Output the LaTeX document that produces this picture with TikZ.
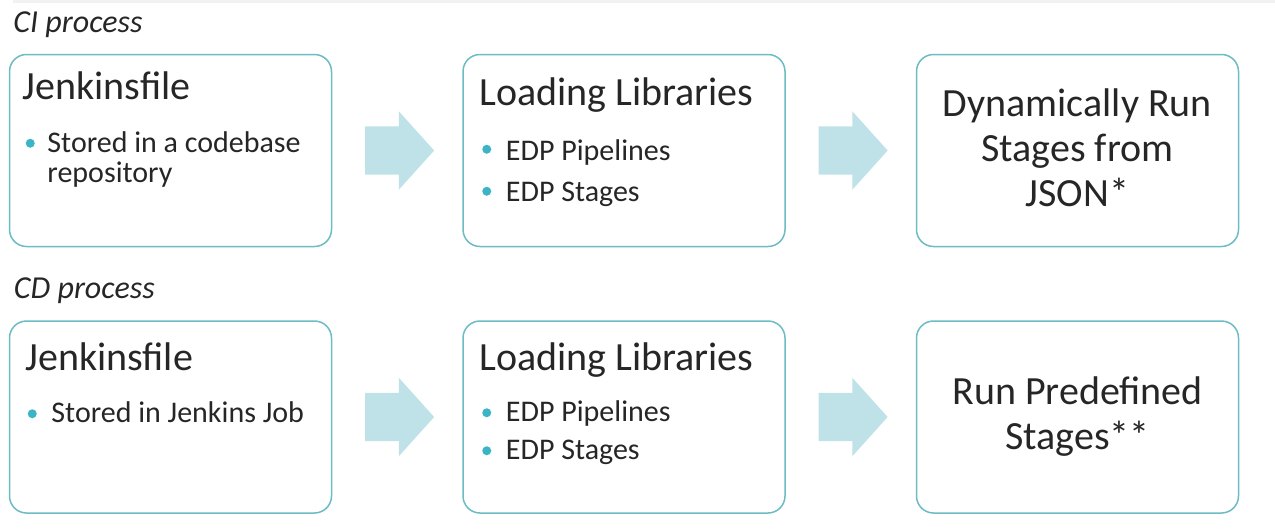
\documentclass[tikz,border=0pt]{standalone}
\usepackage{fontspec}
\setmainfont{Carlito}
\usetikzlibrary{positioning,calc,shapes.arrows}
\definecolor{boxline}{HTML}{6CBCC4}
\definecolor{arrowfill}{HTML}{BEE2E8}
\definecolor{dotfill}{HTML}{3BB4C6}
\definecolor{ink}{HTML}{262626}
\definecolor{strip}{HTML}{F2F2F2}

\begin{document}
\begin{tikzpicture}[x=1pt,y=-1pt,
  stagebox/.style={draw=boxline, line width=1.5pt, rounded corners=17pt, minimum width=322pt, minimum height=192pt, inner sep=0pt},
  headline/.style={anchor=base west, inner sep=0pt, text=ink, font=\fontsize{40}{46}\selectfont},
  itemline/.style={anchor=base west, inner sep=0pt, text=ink, font=\fontsize{30}{30}\selectfont},
  bigline/.style={anchor=base, inner sep=0pt, text=ink, font=\fontsize{40}{45}\selectfont},
  procline/.style={anchor=base west, inner sep=0pt, text=ink, font=\fontsize{32}{32}\selectfont\itshape},
  dot/.style={circle, fill=dotfill, minimum size=9pt, inner sep=0pt},
  flowarrow/.style={single arrow, fill=arrowfill, inner xsep=0pt, inner ysep=24pt, minimum height=69pt, single arrow head extend=15pt, single arrow tip angle=96}
]
\useasboundingbox (0,0) rectangle (1275,531);
\fill[strip] (13,0) rectangle (1275,3);

% CI process
\node[stagebox] (ci1) at (170.5,150.5) {};
\node[stagebox, right=130pt of ci1] (ci2) {};
\node[stagebox, right=130pt of ci2] (ci3) {};
\node[procline] (cilab) at ([shift={(4.5,-21)}]ci1.north west) {CI process};

\node[headline] (ci1h) at ([shift={(14,45.5)}]ci1.north west) {Jenkinsfile};
\node[dot] (ci1d) at ([shift={(21.5,89.5)}]ci1.north west) {};
\node[itemline] (ci1i) at ([shift={(38.5,98.5)}]ci1.north west) {\begin{tabular}[t]{@{}l@{}}Stored in a codebase\\repository\end{tabular}};

\node[headline] (ci2h) at ([shift={(17,51.5)}]ci2.north west) {Loading Libraries};
\node[dot] (ci2d1) at ([shift={(24.5,95.5)}]ci2.north west) {};
\node[itemline] (ci2i1) at ([shift={(43.5,106.5)}]ci2.north west) {EDP Pipelines};
\node[dot] (ci2d2) at ([shift={(24.5,137.5)}]ci2.north west) {};
\node[itemline] (ci2i2) at ([shift={(43.5,147.5)}]ci2.north west) {EDP Stages};

\node[bigline] (ci3t) at ([shift={(0,62.5)}]ci3.north) {\begin{tabular}[t]{@{}c@{}}Dynamically Run\\Stages from\\JSON*\end{tabular}};

\node[flowarrow] (ciar1) at ($(ci1.east)!.5!(ci2.west)+(-8.5,0)$) {};
\node[flowarrow] (ciar2) at ($(ci2.east)!.5!(ci3.west)+(-8.5,0)$) {};

% CD process
\node[stagebox, below=73pt of ci1] (cd1) {};
\node[stagebox, right=130pt of cd1] (cd2) {};
\node[stagebox, right=130pt of cd2] (cd3) {};
\node[procline] (cdlab) at ([shift={(5,-21.5)}]cd1.north west) {CD process};

\node[headline] (cd1h) at ([shift={(16.5,50.5)}]cd1.north west) {Jenkinsfile};
\node[dot] (cd1d) at ([shift={(23.5,93.5)}]cd1.north west) {};
\node[itemline] (cd1i) at ([shift={(42.5,102.5)}]cd1.north west) {Stored in Jenkins Job};

\node[headline] (cd2h) at ([shift={(17,50.5)}]cd2.north west) {Loading Libraries};
\node[dot] (cd2d1) at ([shift={(24.5,92.5)}]cd2.north west) {};
\node[itemline] (cd2i1) at ([shift={(43.5,101.5)}]cd2.north west) {EDP Pipelines};
\node[dot] (cd2d2) at ([shift={(24.5,130.5)}]cd2.north west) {};
\node[itemline] (cd2i2) at ([shift={(43.5,139.5)}]cd2.north west) {EDP Stages};

\node[bigline] (cd3t) at ([shift={(0,84.5)}]cd3.north) {\begin{tabular}[t]{@{}c@{}}Run Predefined\\Stages**\end{tabular}};

\node[flowarrow] (cdar1) at ($(cd1.east)!.5!(cd2.west)+(-8.5,0)$) {};
\node[flowarrow] (cdar2) at ($(cd2.east)!.5!(cd3.west)+(-8.5,0)$) {};
\end{tikzpicture}
\end{document}
